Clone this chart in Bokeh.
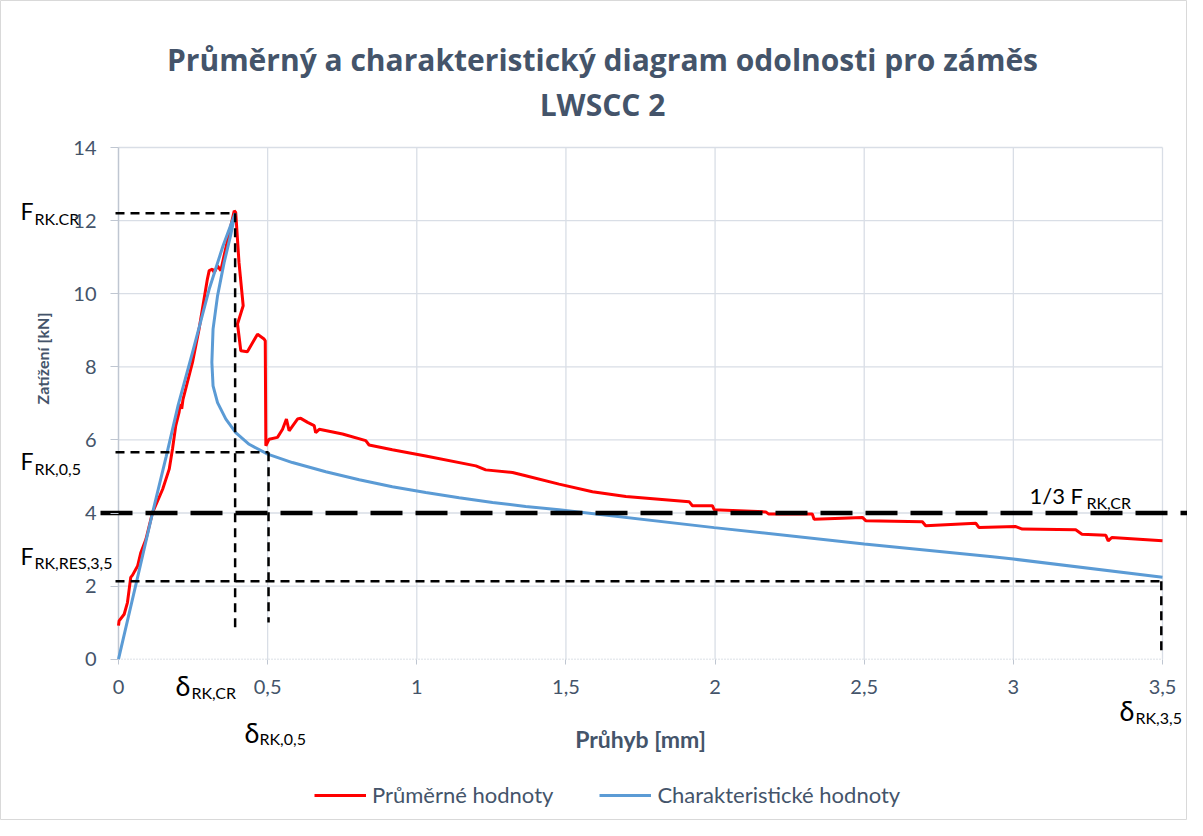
from bokeh.plotting import figure
from bokeh.models import FixedTicker, Legend, LegendItem
from bokeh.core.properties import value
from bokeh.embed import file_html
from bokeh.resources import INLINE

# ---------------- data ----------------
title_lines = ["Průměrný a charakteristický diagram odolnosti pro záměs", "LWSCC 2"]
x_label = "Průhyb [mm]"
y_label = "Zatížení [kN]"
series_names = ["Průměrné hodnoty", "Charakteristické hodnoty"]

x_ticks = [0, 0.5, 1, 1.5, 2, 2.5, 3, 3.5]
x_tick_labels = ["0", "0,5", "1", "1,5", "2", "2,5", "3", "3,5"]
y_ticks = [0, 2, 4, 6, 8, 10, 12, 14]
y_tick_labels = ["0", "2", "4", "6", "8", "10", "12", "14"]

# average curve (red)
avg_x = [0.0, 0.002, 0.019, 0.030, 0.041, 0.047, 0.064, 0.075, 0.092, 0.114, 0.148, 0.170,
         0.181, 0.192, 0.203, 0.207, 0.212, 0.216, 0.248, 0.270, 0.298, 0.304, 0.315, 0.321,
         0.332, 0.343, 0.354, 0.388, 0.393, 0.404, 0.418, 0.399, 0.410, 0.432, 0.466,
         0.488, 0.492, 0.494, 0.505, 0.533, 0.550, 0.563, 0.572, 0.600, 0.611, 0.634, 0.656,
         0.661, 0.673, 0.751, 0.829, 0.840, 0.918, 1.030, 1.198, 1.231, 1.321,
         1.365, 1.477, 1.589, 1.701, 1.913, 1.924, 1.991, 1.997, 2.170, 2.180, 2.326, 2.332,
         2.494, 2.505, 2.695, 2.706, 2.874, 2.885, 3.008, 3.030, 3.209, 3.230, 3.310, 3.318,
         3.330, 3.500]
avg_y = [0.92, 1.05, 1.23, 1.55, 2.24, 2.30, 2.55, 2.92, 3.28, 4.01, 4.65, 5.20,
         5.75, 6.39, 6.75, 6.98, 6.85, 7.10, 8.12, 9.03, 10.40, 10.63, 10.67, 10.58,
         10.76, 10.63, 11.04, 12.27, 12.22, 10.85, 9.67, 9.17, 8.44, 8.41, 8.89,
         8.76, 8.71, 5.84, 6.02, 6.07, 6.29, 6.57, 6.25, 6.57, 6.59, 6.48, 6.39,
         6.20, 6.29, 6.16, 5.98, 5.86, 5.73, 5.56, 5.29, 5.18, 5.11,
         5.02, 4.79, 4.58, 4.45, 4.31, 4.20, 4.20, 4.09, 4.03, 3.97, 3.97, 3.83,
         3.88, 3.79, 3.76, 3.65, 3.72, 3.60, 3.63, 3.56, 3.54, 3.42, 3.39, 3.24,
         3.33, 3.24]

# characteristic curve (blue)
char_x = [0.0, 0.06, 0.114, 0.16, 0.20, 0.25, 0.305, 0.35, 0.391,
          0.376, 0.354, 0.332, 0.317, 0.313, 0.317, 0.332, 0.360, 0.393, 0.438, 0.500,
          0.583, 0.695, 0.807, 0.918, 1.030, 1.142, 1.254, 1.365, 1.477, 1.997, 2.50,
          2.93, 3.00, 3.50]
char_y = [0.0, 2.10, 4.00, 5.55, 6.95, 8.45, 10.15, 11.30, 12.20,
          11.60, 10.85, 9.94, 9.03, 8.12, 7.48, 7.02, 6.57, 6.20, 5.88, 5.61,
          5.38, 5.13, 4.91, 4.72, 4.56, 4.42, 4.29, 4.18, 4.09, 3.60, 3.15,
          2.80, 2.74, 2.24]

# characteristic values
F_cr = 12.2
d_cr = 0.391
F_05 = 5.66
d_05 = 0.503
F_third = 4.0
F_res = 2.13
d_35 = 3.5

# ---------------- layout helpers ----------------
W, H = 1187, 820
X0, X35 = 118.0, 1162.0     # figure px of x=0 and x=3.5
Y0, Y14 = 658.7, 147.0      # figure px (from top) of y=0 and y=14
SX = (X35 - X0) / 3.5
SY = (Y0 - Y14) / 14.0
x_start, x_end = -X0 / SX, 3.5 + (W - X35) / SX
y_start, y_end = -(H - Y0) / SY, 14 + Y14 / SY


def px(xp):  # page pixel -> data x
    return (xp - 8 - X0) / SX


def py(yp):  # page pixel -> data y
    return (Y0 - (yp - 8)) / SY


SLATE = "#44546A"
FONT = "Lato"

p = figure(width=W, height=H, x_range=(x_start, x_end), y_range=(y_start, y_end),
           output_backend="svg", toolbar_location=None, min_border=0,
           background_fill_color="white", border_fill_color="white",
           outline_line_color="#D9D9D9")
p.xgrid.visible = False
p.ygrid.visible = False

# axes at fixed positions
p.xaxis.fixed_location = 0
p.yaxis.fixed_location = 0
p.xaxis.ticker = FixedTicker(ticks=x_ticks)
p.yaxis.ticker = FixedTicker(ticks=y_ticks)
p.xaxis.major_label_overrides = {float(t): l for t, l in zip(x_ticks, x_tick_labels)}
p.yaxis.major_label_overrides = {float(t): l for t, l in zip(y_ticks, y_tick_labels)}
for ax in (p.xaxis, p.yaxis):
    ax.axis_line_color = None
    ax.minor_tick_line_color = None
    ax.major_tick_in = 0
    ax.major_tick_line_color = "#BFC6D1"
    ax.major_label_text_font = FONT
    ax.major_label_text_font_size = "20px"
    ax.major_label_text_color = SLATE
p.xaxis.major_tick_out = 5
p.xaxis.major_label_standoff = 16
p.yaxis.major_tick_out = 8
p.yaxis.major_label_standoff = 14

# grid lines
vx = x_ticks[1:]
p.segment(x0=vx, y0=[y_ticks[0]] * len(vx), x1=vx, y1=[y_ticks[-1]] * len(vx),
          line_color="#D9DEE6", line_width=1.3)
hy = y_ticks[1:]
p.segment(x0=[x_ticks[0]] * len(hy), y0=hy, x1=[x_ticks[-1]] * len(hy), y1=hy,
          line_color="#D9DEE6", line_width=1.3)
p.line(x=[x_ticks[0], x_ticks[-1]], y=[0, 0], line_color="#D0D5DD", line_width=1.5, line_dash="1 2")
p.line(x=[0, 0], y=[y_ticks[0], y_ticks[-1]], line_color="#BFC6D1", line_width=1.5)

# curves
r_avg = p.line(avg_x, avg_y, line_color="#FF0000", line_width=3)
r_char = p.line(char_x, char_y, line_color="#5B9BD5", line_width=3)

# characteristic dashed lines
DASH = "9 6"
p.line(x=[px(123), d_cr], y=[F_cr, F_cr], line_color="black", line_width=2.5, line_dash=DASH)
p.line(x=[d_cr, d_cr], y=[F_cr, py(638)], line_color="black", line_width=2.5, line_dash=DASH)
p.line(x=[px(123), d_05], y=[F_05, F_05], line_color="black", line_width=2.5, line_dash=DASH)
p.line(x=[d_05, d_05], y=[F_05, py(630)], line_color="black", line_width=2.5, line_dash=DASH)
p.line(x=[px(123), d_35], y=[F_res, F_res], line_color="black", line_width=2.5, line_dash=DASH)
p.line(x=[d_35 - 0.004, d_35 - 0.004], y=[F_res, py(663)], line_color="black", line_width=2.5, line_dash=DASH)
p.line(x=[px(108), x_end], y=[F_third, F_third], line_color="black", line_width=4.5, line_dash="32 13")


def txt(xp, yp, s, size, color="black", style="normal", align="left", baseline="alphabetic",
        angle=0.0, font=FONT):
    p.text(x=[px(xp)], y=[py(yp)], text=[s], text_font=value(font), text_font_size=f"{size}px",
           text_color=color, text_font_style=style, text_align=align, text_baseline=baseline,
           angle=angle)


# title
txt(610, 67, title_lines[0], 30, SLATE, "bold", "center", font="Open Sans")
txt(610, 112, title_lines[1], 30, SLATE, "bold", "center", font="Open Sans")

# axis titles
txt(648, 746, x_label, 23, SLATE, "bold", "center")
txt(50, 366, y_label, 16, SLATE, "bold", "center", "alphabetic", 1.5707963)

# annotations
txt(28, 218, "F", 23)
txt(42, 226, "RK.CR", 16)
txt(28, 468, "F", 23)
txt(42, 476, "RK,0,5", 16)
txt(28, 563, "F", 23)
txt(42, 570, "RK,RES,3,5", 16)
txt(183, 693, "δ", 27)
txt(199, 700, "RK,CR", 16)
txt(252, 740, "δ", 27)
txt(267, 746, "RK,0,5", 16)
txt(1127, 718, "δ", 27)
txt(1143, 725, "RK,3,5", 16)
txt(1037, 503, "1/3 F", 22)
txt(1094, 510, "RK,CR", 16)

legend = Legend(items=[LegendItem(label=series_names[0], renderers=[r_avg]),
                       LegendItem(label=series_names[1], renderers=[r_char])],
                orientation="horizontal", location=(314, 12),
                border_line_color=None, background_fill_alpha=0,
                glyph_width=52, glyph_height=22, label_height=22,
                label_text_font=FONT, label_text_font_size="22px", label_text_color=SLATE,
                label_standoff=6, spacing=46, padding=0, margin=0)
p.add_layout(legend)

open("out.html", "w").write(file_html(p, INLINE))
